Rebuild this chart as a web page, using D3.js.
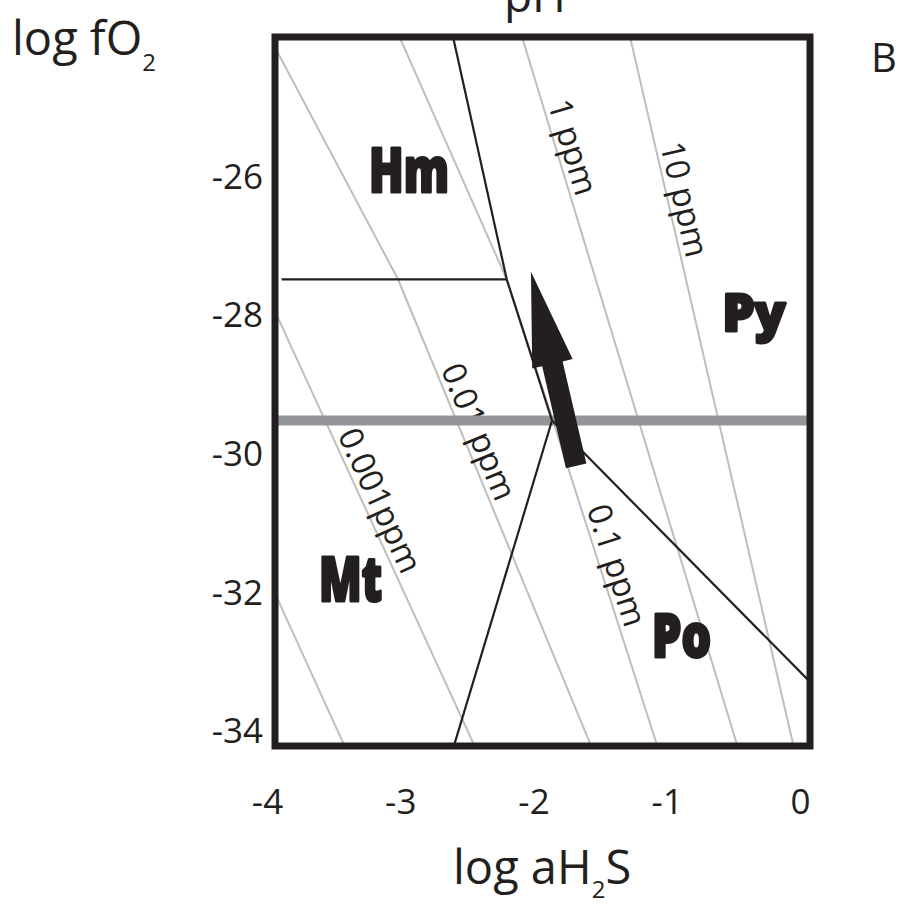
<!DOCTYPE html>
<html><head><meta charset="utf-8">
<script src="https://cdn.jsdelivr.net/npm/d3@7"></script>
<style>
html,body{margin:0;padding:0;background:#fff;}
svg{display:block;}
text{font-family:"Open Sans","Noto Sans",sans-serif;fill:#231f20;}
</style></head><body>
<svg id="chart" width="899" height="907"></svg>
<script>
// ---------------- data (log aH2S, log fO2) ----------------
const xTicks = [-4, -3, -2, -1, 0];
const yTicks = [-26, -28, -30, -32, -34];
const xDomain = [-3.94, 0.075];
const yDomain = [-34.21, -23.98];

// gold solubility isopleths (grey)
const iso0001 = [[-3.962, -31.916], [-3.411, -34.24]];
const iso001  = [[-3.962, -27.847], [-2.435, -34.24]];
const iso01   = [[-3.985, -23.965], [-3.017, -27.476], [-1.561, -34.24]];
const iso1    = [[-3.009, -23.965], [-2.201, -27.476], [-1.854, -29.514], [-1.066, -34.24]];
const iso10   = [[-2.088, -23.965], [-0.465, -34.24]];
const iso100  = [[-1.277, -23.965], [-0.045, -34.24]];
const isoLines = [iso0001, iso001, iso01, iso1, iso10, iso100];
const isoLabels = [null, "0.001ppm", "0.01 ppm", "0.1 ppm", "1 ppm", "10 ppm"];
const isoLabelAt = [null, -29.75, -28.80, -30.81, -24.96, -25.55];

// mineral stability boundaries (black)
const hmPy = [[-2.613, -23.90], [-2.201, -27.476]];
const mtPy = [[-2.201, -27.476], [-1.861, -29.514]];
const pyPo = [[-1.861, -29.514], [0.087, -33.309]];
const mtPo = [[-1.861, -29.514], [-2.600, -34.225]];
const hmMt = [[-3.890, -27.476], [-2.201, -27.476]];
const boundaries = [hmPy, mtPy, pyPo, mtPo, hmMt];

const bandFO2 = -29.514;               // thick grey horizontal line
const arrowFrom = [-1.680, -30.167];
const arrowTo   = [-2.019, -27.367];

const phaseNames = ["Hm", "Py", "Mt", "Po"];
const phaseX = [-2.934, -0.345, -3.373, -0.889];
const phaseY = [-26.231, -28.237, -32.133, -32.941];

// ---------------- drawing ----------------
const svg = d3.select("#chart");
const L = 275, R = 810, T = 37, B = 746;
const x = d3.scaleLinear().domain(xDomain).range([L, R]);
const y = d3.scaleLinear().domain(yDomain).range([B, T]);
const ink = "#231f20";

svg.append("defs").append("clipPath").attr("id", "plotclip")
  .append("rect").attr("x", x(xDomain[0])).attr("y", y(yDomain[1]))
  .attr("width", x(xDomain[1]) - x(xDomain[0])).attr("height", y(yDomain[0]) - y(yDomain[1]));

const plot = svg.append("g").attr("clip-path", "url(#plotclip)");
const line = d3.line().x(d => x(d[0])).y(d => y(d[1]));

// isopleths
plot.selectAll("path.iso").data(isoLines).join("path").attr("class", "iso")
  .attr("d", line).attr("fill", "none").attr("stroke", "#bcbec0").attr("stroke-width", 2);

// isopleth labels
isoLines.forEach((ln, i) => {
  if (!isoLabels[i]) return;
  const yv = isoLabelAt[i];
  let seg = 0;
  for (let k = 0; k < ln.length - 1; k++) {
    if (yv <= ln[k][1] && yv >= ln[k + 1][1]) { seg = k; break; }
  }
  const a = ln[seg], b = ln[seg + 1];
  const t = (yv - a[1]) / (b[1] - a[1]);
  const xv = a[0] + t * (b[0] - a[0]);
  const px = x(xv), py = y(yv);
  const dx = x(b[0]) - x(a[0]), dy = y(b[1]) - y(a[1]);
  const len = Math.hypot(dx, dy);
  const ux = dx / len, uy = dy / len;
  const off = 5;
  const ang = Math.atan2(dy, dx) * 180 / Math.PI;
  plot.append("text")
    .attr("transform", `translate(${px + uy * off},${py - ux * off}) rotate(${ang})`)
    .attr("font-size", 33).text(isoLabels[i]);
});

// thick grey band
plot.append("line")
  .attr("x1", x(xDomain[0])).attr("x2", x(xDomain[1]))
  .attr("y1", y(bandFO2)).attr("y2", y(bandFO2))
  .attr("stroke", "#939598").attr("stroke-width", 10);

// boundaries
plot.selectAll("path.bnd").data(boundaries).join("path").attr("class", "bnd")
  .attr("d", line).attr("fill", "none").attr("stroke", ink).attr("stroke-width", 2.2);

// arrow
(function () {
  const p0 = [x(arrowFrom[0]), y(arrowFrom[1])];
  const p1 = [x(arrowTo[0]), y(arrowTo[1])];
  const dx = p1[0] - p0[0], dy = p1[1] - p0[1];
  const len = Math.hypot(dx, dy);
  const ux = dx / len, uy = dy / len;
  const nx = -uy, ny = ux;
  const headLen = 94.5, headW = 41.5, shaftW = 21;
  const bc = [p1[0] - ux * headLen, p1[1] - uy * headLen];
  const pts = [
    [p0[0] + nx * shaftW / 2, p0[1] + ny * shaftW / 2],
    [bc[0] + nx * shaftW / 2, bc[1] + ny * shaftW / 2],
    [bc[0] + nx * headW / 2, bc[1] + ny * headW / 2],
    p1,
    [bc[0] - nx * headW / 2, bc[1] - ny * headW / 2],
    [bc[0] - nx * shaftW / 2, bc[1] - ny * shaftW / 2],
    [p0[0] - nx * shaftW / 2, p0[1] - ny * shaftW / 2]
  ];
  svg.append("polygon").attr("points", pts.map(p => p.join(",")).join(" ")).attr("fill", ink);
})();

// phase labels
const phaseSize = [62, 51, 62, 60];
const phaseW = [80, 63, 63, 59];
phaseNames.forEach((n, i) => {
  svg.append("text")
    .attr("x", x(phaseX[i]) - phaseW[i] / 2).attr("y", y(phaseY[i]) - 1)
    .attr("font-family", "Lato, Inter, Roboto, sans-serif").attr("font-weight", 900)
    .attr("font-size", phaseSize[i])
    .attr("textLength", phaseW[i]).attr("lengthAdjust", "spacingAndGlyphs")
    .attr("stroke", ink).attr("stroke-width", 3).attr("stroke-linejoin", "round")
    .style("fill", ink).text(n);
});

// frame
svg.append("rect").attr("x", L).attr("y", T).attr("width", R - L).attr("height", B - T)
  .attr("fill", "none").attr("stroke", ink).attr("stroke-width", 7);

// axes (labels only)
const gx = svg.append("g").attr("transform", `translate(0,${B})`)
  .call(d3.axisBottom(x).tickValues(xTicks).tickSize(0).tickPadding(43).tickFormat(d => String(d)));
gx.select(".domain").remove();
gx.attr("font-size", 35).attr("font-family", null).attr("color", ink);

const gy = svg.append("g").attr("transform", `translate(${L},0)`)
  .call(d3.axisLeft(y).tickValues(yTicks).tickSize(0).tickPadding(12).tickFormat(d => String(d)));
gy.select(".domain").remove();
gy.attr("font-size", 35).attr("font-family", null).attr("color", ink);

// titles
const t1 = svg.append("text").attr("x", 12).attr("y", 55).attr("font-size", 47);
t1.append("tspan").text("log fO");
t1.append("tspan").attr("font-size", 24).attr("dy", 16).text("2");

const t2 = svg.append("text").attr("x", 453).attr("y", 884).attr("font-size", 47);
t2.append("tspan").text("log aH");
t2.append("tspan").attr("font-size", 24).attr("dy", 14).text("2");
t2.append("tspan").attr("dy", -14).text("S");

svg.append("text").attr("x", 871).attr("y", 72).attr("font-size", 40).text("B");
svg.append("text").attr("x", 535).attr("y", 12).attr("font-size", 46).attr("text-anchor", "middle").text("pH");
</script>
</body></html>
